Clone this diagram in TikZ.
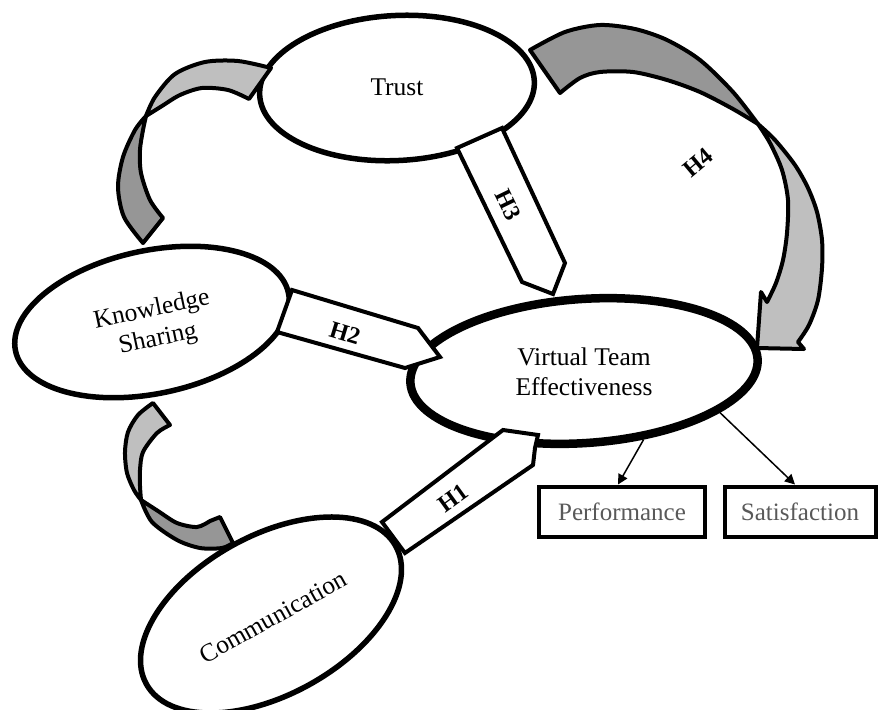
\documentclass[tikz,border=0pt]{standalone}
\usepackage{fontspec}
\setmainfont{Liberation Serif}
\usetikzlibrary{shapes.geometric,arrows.meta}
\definecolor{lgray}{HTML}{BFBFBF}
\definecolor{dgray}{HTML}{969696}
\definecolor{tgray}{HTML}{595959}
\begin{document}
\begin{tikzpicture}[x=1pt,y=-1pt,
  ell/.style={ellipse, draw, fill=white, line width=5.5pt, inner sep=0pt},
  lbl/.style={font=\fontsize{25.5}{30}\selectfont, align=center, inner sep=0pt},
  hlbl/.style={font=\fontsize{24}{28}\selectfont\bfseries, inner sep=0pt},
  blk/.style={draw, fill=white, line width=4pt, line join=miter},
  band/.style={draw, line width=4pt, line join=round},
  resbox/.style={draw, line width=4pt, minimum height=50pt, inner sep=0pt,
    font=\fontsize{25}{29}\selectfont, text=tgray},
  conn/.style={line width=1.5pt, -{Triangle[length=10pt,width=10pt]}}
]
\useasboundingbox (0,0) rectangle (879,710);
\fill[white] (0,0) rectangle (879,710);

% ellipses
\node[ell, minimum width=275pt, minimum height=145pt, rotate=3] (trust) at (397,88) {};
\node[ell, minimum width=279pt, minimum height=143pt, rotate=12] (ks) at (152,322) {};
\node[ell, minimum width=285pt, minimum height=159pt, rotate=29] (comm) at (271,615) {};
\node[ell, line width=8.5pt, minimum width=348pt, minimum height=144pt, rotate=4] (vte) at (584,371) {};

% top-left gray band (Knowledge Sharing -> Trust)
\filldraw[band, fill=lgray] plot[smooth] coordinates {(271,68) (238,61) (205,62) (175,74) (155,97) (146,116)}
  -- plot[smooth] coordinates {(146,116) (162,106) (180,95) (202,88) (228,90) (249,99)} -- cycle;
\filldraw[band, fill=dgray] plot[smooth] coordinates {(146,116) (135,130) (123,157) (118,187) (124,217) (143,243)}
  -- (163,218) -- plot[smooth] coordinates {(163,218) (150,200) (141,173) (140,150) (143,130) (146,116)} -- cycle;

% bottom-left gray band (Knowledge Sharing -> Communication)
\filldraw[band, fill=lgray] plot[smooth] coordinates {(153,403) (138,415) (128,432) (125,452) (127,473) (134,490) (141,500)}
  -- plot[smooth] coordinates {(141,500) (140,486) (140,470) (143,452) (157,433) (170,425)} -- cycle;
\filldraw[band, fill=dgray] plot[smooth] coordinates {(141,500) (152,522) (177,540) (200,548) (222,548) (233,543)}
  -- (220,517) -- (210,521) -- plot[smooth] coordinates {(210,521) (197,527) (177,523) (158,511) (141,500)} -- cycle;

% H4 gray band (Trust -> Virtual Team Effectiveness)
\filldraw[band, fill=dgray] plot[smooth] coordinates {(530,50) (565,32) (600,25) (635,29) (667,40) (700,60) (733,92) (758,124)}
  -- plot[smooth] coordinates {(758,124) (733,109) (700,92) (667,80) (633,72) (600,72) (580,78) (560,93)} -- cycle;
\filldraw[band, fill=lgray] plot[smooth] coordinates {(758,124) (775,140) (795,165) (808,188) (817,212) (822,240) (822,268) (818,300) (809,325) (798,342)}
  -- (804,349) -- (757,348) -- (761,292) -- (767,302)
  -- plot[smooth] coordinates {(767,302) (776,283) (783,260) (787,233) (788,200) (782,170) (770,143) (758,124)} -- cycle;

% block arrows
\filldraw[blk] (292,290) -- (418,328) -- (440,357) -- (405,368) -- (277,332) -- cycle;
\filldraw[blk] (457,148) -- (502,128) -- (565,263) -- (553,294) -- (522,282) -- cycle;
\filldraw[blk] (382,522) -- (503,430) -- (538,435) -- (535,448) -- (533,465) -- (405,553) -- cycle;

% hypothesis labels
\node[hlbl, rotate=-17] (h2) at (345,333) {H2};
\node[hlbl, rotate=-64] (h3) at (508,205) {H3};
\node[hlbl, rotate=36] (h1) at (453,498) {H1};
\node[hlbl, rotate=40] (h4) at (698,163) {H4};

% ellipse texts
\node[lbl] (trustt) at (397,87) {Trust};
\node[lbl, rotate=12] (kst) at (155,325) {Knowledge\\Sharing};
\node[lbl, rotate=29] (commt) at (273,617) {Communication};
\node[lbl] (vtet) at (584,372) {Virtual Team\\Effectiveness};

% outcome boxes
\node[resbox, minimum width=166pt] (perf) at (622,511.5) {Performance};
\node[resbox, minimum width=151pt] (sat) at (800,511.5) {Satisfaction};

\draw[conn] (vte.-53) -- ([xshift=-4pt]perf.north);
\draw[conn] (vte.-21) -- ([xshift=-5pt]sat.north);
\end{tikzpicture}
\end{document}
